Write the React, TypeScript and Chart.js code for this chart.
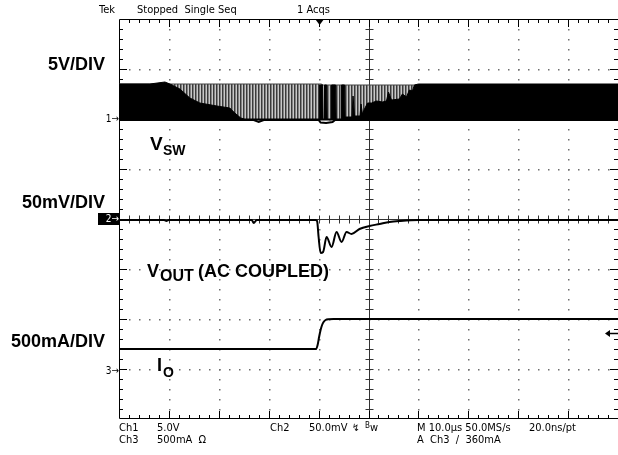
import React, { useEffect, useRef } from "react";
import { Chart, registerables } from "chart.js";

Chart.register(...registerables);

// ---- scope settings ----
const timePerDivUs = 10;
const ch1VoltsPerDiv = 5;
const ch2mVPerDiv = 50;
const ch3mAPerDiv = 500;
const ch1OffsetDiv = 2;
const ch2OffsetDiv = 0;
const ch3OffsetDiv = -3;
const triggerTimeUs = 40.2;
const triggerLevelmA = 360;

// ---- Ch1: V_SW (sparse pulses region envelope, volts) ----
const vswGreyTimeUs = [0, 40.5, 41, 100];
const vswGreyTopV = [3.5, 3.5, 3.4, 3.4];

// ---- Ch1: V_SW dense switching envelope (volts) ----
const vswDenseTimeUs = [0, 6.2, 9.2, 10.2, 12.2, 14.2, 16.2, 19.6, 22.2, 23.2, 24.4, 25.2, 40.1, 40.2, 40.8, 40.9, 41.1, 41.2, 41.6, 41.7, 42.5, 42.6, 43.4, 43.5, 44.5, 44.6, 45.2, 45.3, 46.7, 46.9, 47.2, 48.3, 48.5, 48.8, 49.2, 49.8, 50.6, 51.6, 52.8, 53.6, 54.0, 54.6, 56.2, 56.8, 57.6, 58.2, 58.8, 59.2, 60, 100];
const vswDenseTopV = [3.5, 3.5, 3.7, 3.5, 3.0, 2.1, 1.6, 1.3, 1.1, 0.6, 0.1, 0, 0, 3.4, 3.4, 0, 0, 3.4, 3.4, 0, 0, 3.4, 3.4, 0, 0, 3.4, 3.4, 0.2, 0.2, 2.3, 0.3, 0.3, 1.5, 0.5, 1.0, 1.6, 1.6, 1.8, 1.7, 1.8, 2.7, 1.9, 2.0, 2.5, 2.2, 2.9, 2.8, 3.4, 3.5, 3.5];
const vswDenseBottomV = -0.15;

// ---- Ch1: V_SW low level trace (volts) ----
const vswLowTimeUs = [0, 27, 28, 29, 40, 40.4, 41.5, 42.8, 43.3, 100];
const vswLowV = [-0.1, -0.1, -0.3, -0.1, -0.1, -0.35, -0.4, -0.3, -0.1, -0.1];

// ---- Ch2: V_OUT AC coupled (mV) ----
const voutTimeUs = [0, 5, 9, 9.5, 10, 20, 26.6, 27.0, 27.6, 35, 39.4, 39.7, 40.0, 40.4, 40.9, 41.6, 42.6, 43.6, 44.6, 45.6, 46.6, 48.2, 50.2, 52.2, 54.2, 56.2, 60, 70, 80, 90, 100];
const voutmV = [-1, -1, -1, -2, -1, -1, -1, -4, -1, -1, -1, -2, -18, -34, -33, -18, -28, -13, -23, -13, -15, -10, -7, -5, -3, -2, -1, -1, -1, -1, -1];

// ---- Ch3: I_O (mA) ----
const ioTimeUs = [0, 39.5, 39.8, 40.1, 40.4, 40.7, 41.0, 41.4, 42, 43, 100];
const iomA = [200, 200, 240, 320, 390, 440, 470, 490, 498, 500, 500];

// ---- texts ----
const headerTexts = ["Tek", "Stopped  Single Seq", "1 Acqs"];
const scaleLabels = ["5V/DIV", "50mV/DIV", "500mA/DIV"];
const footerRow1 = ["Ch1", "5.0V", "Ch2", "50.0mV", "M 10.0\u00b5s 50.0MS/s", "20.0ns/pt"];
const footerRow2 = ["Ch3", "500mA  \u03a9", "A  Ch3  \u2215  360mA"];

const toPts = (ts: number[], vs: number[], perDiv: number, off: number) =>
  ts.map((t, i) => ({ x: t, y: vs[i] / perDiv + off }));

const W = 618;
const H = 455;
const NARROW = '"Liberation Sans Narrow", "DejaVu Sans Condensed", "Liberation Sans", sans-serif';
const BOLD = '"Liberation Sans", Arial, sans-serif';

function T(props: {
  x: number; base: number; size: number; bold?: boolean; family?: string;
  right?: boolean; children: React.ReactNode; color?: string;
}) {
  const { x, base, size, bold, family, right, children, color } = props;
  const style: React.CSSProperties = {
    position: "absolute",
    top: base - 0.846 * size,
    fontSize: size,
    lineHeight: `${size}px`,
    fontFamily: family || (bold ? BOLD : NARROW),
    fontWeight: bold ? 700 : 400,
    whiteSpace: "pre",
    color: color || "#000",
  };
  if (right) style.right = W - x; else style.left = x;
  return <div style={style}>{children}</div>;
}

const gridPlugin = {
  id: "scopeGrid",
  beforeDatasetsDraw(chart: any) {
    const { ctx, chartArea, scales } = chart;
    const { left, right, top, bottom } = chartArea;
    const xs = scales.x, ys = scales.y;
    ctx.save();
    ctx.fillStyle = "#6e6e6e";
    for (let i = 1; i < 10; i++) {
      if (i === 5) continue;
      const px = Math.round(xs.getPixelForValue(i * timePerDivUs));
      for (let j = 1; j < 40; j++) {
        const py = Math.round(ys.getPixelForValue(-4 + j * 0.2));
        ctx.fillRect(px, py, 1.5, 1.5);
      }
    }
    for (let d = -3; d <= 3; d++) {
      if (d === 0) continue;
      const py = Math.round(ys.getPixelForValue(d));
      for (let k = 1; k < 50; k++) {
        const px = Math.round(xs.getPixelForValue(k * 2));
        ctx.fillRect(px, py, 1.5, 1.5);
      }
    }
    ctx.strokeStyle = "#333";
    ctx.lineWidth = 1;
    const cx = Math.round(xs.getPixelForValue(5 * timePerDivUs)) + 0.5;
    const cy = Math.round(ys.getPixelForValue(0)) + 0.5;
    ctx.beginPath();
    ctx.moveTo(cx, top); ctx.lineTo(cx, bottom);
    ctx.moveTo(left, cy); ctx.lineTo(right, cy);
    for (let j = 1; j < 40; j++) {
      const py = Math.round(ys.getPixelForValue(-4 + j * 0.2)) + 0.5;
      ctx.moveTo(cx - 4, py); ctx.lineTo(cx + 4, py);
    }
    for (let k = 1; k < 50; k++) {
      const px = Math.round(xs.getPixelForValue(k * 2)) + 0.5;
      ctx.moveTo(px, cy - 4); ctx.lineTo(px, cy + 4);
    }
    ctx.stroke();
    ctx.strokeStyle = "#000";
    ctx.beginPath();
    ctx.rect(left + 0.5, top + 0.5, right - left + 1, bottom - top - 1);
    for (let k = 1; k < 50; k++) {
      const px = Math.round(xs.getPixelForValue(k * 2)) + 0.5;
      const len = k % 5 === 0 ? 8 : 4;
      ctx.moveTo(px, top); ctx.lineTo(px, top + len);
      ctx.moveTo(px, bottom); ctx.lineTo(px, bottom - len);
    }
    for (let j = 1; j < 40; j++) {
      const py = Math.round(ys.getPixelForValue(-4 + j * 0.2)) + 0.5;
      const len = j % 5 === 0 ? 8 : 4;
      ctx.moveTo(left, py); ctx.lineTo(left + len, py);
      ctx.moveTo(right, py); ctx.lineTo(right - len, py);
    }
    ctx.stroke();
    ctx.restore();
  },
  afterDatasetsDraw(chart: any) {
    const { ctx, chartArea, scales } = chart;
    const xs = scales.x, ys = scales.y;
    ctx.save();
    ctx.fillStyle = "#000";
    ctx.strokeStyle = "#000";
    const tx = xs.getPixelForValue(triggerTimeUs);
    ctx.beginPath();
    ctx.moveTo(tx - 4.5, chartArea.top);
    ctx.lineTo(tx + 4.5, chartArea.top);
    ctx.lineTo(tx, chartArea.top + 6);
    ctx.closePath();
    ctx.fill();
    const ty = Math.round(ys.getPixelForValue(triggerLevelmA / ch3mAPerDiv + ch3OffsetDiv)) + 0.5;
    const ax = chartArea.right - 12;
    ctx.lineWidth = 1.5;
    ctx.beginPath();
    ctx.moveTo(ax + 2, ty); ctx.lineTo(chartArea.right, ty);
    ctx.stroke();
    ctx.beginPath();
    ctx.moveTo(ax - 1, ty); ctx.lineTo(ax + 4, ty - 3.5); ctx.lineTo(ax + 4, ty + 3.5);
    ctx.closePath();
    ctx.fill();
    ctx.restore();
  },
};

export default function App() {
  const ref = useRef<HTMLCanvasElement | null>(null);
  useEffect(() => {
    if (!ref.current) return;
    const pc = document.createElement("canvas");
    pc.width = 3; pc.height = 1;
    const pctx = pc.getContext("2d")!;
    pctx.fillStyle = "#c8c8c8"; pctx.fillRect(0, 0, 3, 1);
    pctx.fillStyle = "#3a3a3a"; pctx.fillRect(0, 0, 1.5, 1);
    const greyPattern = pctx.createPattern(pc, "repeat") || "#888";

    const base = { pointRadius: 0, tension: 0, spanGaps: true } as any;
    const chart = new Chart(ref.current, {
      type: "line",
      data: {
        datasets: [
          {
            ...base, label: "V_OUT", order: 1,
            data: toPts(voutTimeUs, voutmV, ch2mVPerDiv, ch2OffsetDiv),
            borderColor: "#000", borderWidth: 2, fill: false, cubicInterpolationMode: "monotone",
          },
          {
            ...base, label: "I_O", order: 2,
            data: toPts(ioTimeUs, iomA, ch3mAPerDiv, ch3OffsetDiv),
            borderColor: "#000", borderWidth: 2, fill: false, cubicInterpolationMode: "monotone",
          },
          {
            ...base, label: "V_SW low", order: 3,
            data: toPts(vswLowTimeUs, vswLowV, ch1VoltsPerDiv, ch1OffsetDiv),
            borderColor: "#000", borderWidth: 2, fill: false,
          },
          {
            ...base, label: "V_SW dense", order: 4,
            data: toPts(vswDenseTimeUs, vswDenseTopV, ch1VoltsPerDiv, ch1OffsetDiv),
            borderColor: "#000", borderWidth: 1, backgroundColor: "#000",
            fill: { value: ch1OffsetDiv + vswDenseBottomV / ch1VoltsPerDiv },
          },
          {
            ...base, label: "V_SW pulses", order: 5,
            data: toPts(vswGreyTimeUs, vswGreyTopV, ch1VoltsPerDiv, ch1OffsetDiv),
            borderColor: "#444", borderWidth: 1, backgroundColor: greyPattern,
            fill: { value: ch1OffsetDiv },
          },
        ],
      },
      options: {
        animation: false,
        responsive: false,
        devicePixelRatio: 1,
        layout: { padding: { left: 119, top: 19, right: 0, bottom: 36 } },
        scales: {
          x: { type: "linear", min: 0, max: 10 * timePerDivUs, display: false },
          y: { type: "linear", min: -4, max: 4, display: false },
        },
        plugins: { legend: { display: false }, tooltip: { enabled: false } },
        events: [],
      },
      plugins: [gridPlugin],
    } as any);
    return () => chart.destroy();
  }, []);

  const marker = (n: string, base: number, boxed?: boolean) => (
    <div style={{
      position: "absolute", left: boxed ? 98 : 102, top: base - 9, width: boxed ? 21 : 17, height: 12,
      background: boxed ? "#000" : "transparent", color: boxed ? "#fff" : "#000",
      fontFamily: NARROW, fontSize: 10, lineHeight: "12px", textAlign: "right", whiteSpace: "pre",
    }}>{n + "\u2192"}</div>
  );

  return (
    <div style={{ position: "fixed", left: 0, top: 0, width: W, height: H, background: "#fff", overflow: "hidden" }}>
      <canvas ref={ref} width={W} height={H} style={{ position: "absolute", left: 0, top: 0, width: W, height: H }} />
      <T x={99} base={13} size={11}>{headerTexts[0]}</T>
      <T x={137} base={13} size={11}>{headerTexts[1]}</T>
      <T x={297} base={13} size={11}>{headerTexts[2]}</T>

      <T x={105} base={70} size={18} bold right>{scaleLabels[0]}</T>
      <T x={105} base={208} size={18} bold right>{scaleLabels[1]}</T>
      <T x={105} base={347} size={18} bold right>{scaleLabels[2]}</T>

      <T x={150} base={150} size={19} bold>V</T>
      <T x={163} base={155} size={14} bold>SW</T>
      <T x={147} base={277} size={18} bold>V</T>
      <T x={160} base={282} size={16} bold>OUT</T>
      <T x={198} base={277} size={18} bold>(AC COUPLED)</T>
      <T x={157} base={371} size={18} bold>I</T>
      <T x={163} base={377} size={14} bold>O</T>

      {marker("1", 122)}
      {marker("2", 222, true)}
      {marker("3", 374)}

      <T x={119} base={431} size={11}>{footerRow1[0]}</T>
      <T x={157} base={431} size={11}>{footerRow1[1]}</T>
      <T x={270} base={431} size={11}>{footerRow1[2]}</T>
      <T x={309} base={431} size={11}>{footerRow1[3]}</T>
      <T x={352} base={431} size={10}>{"\u21af"}</T>
      <T x={365} base={431} size={11}><span style={{ fontSize: 8, position: "relative", top: -3 }}>B</span>w</T>
      <T x={417} base={431} size={11}>{footerRow1[4]}</T>
      <T x={529} base={431} size={11}>{footerRow1[5]}</T>
      <T x={119} base={443} size={11}>{footerRow2[0]}</T>
      <T x={157} base={443} size={11}>{footerRow2[1]}</T>
      <T x={417} base={443} size={11}>{footerRow2[2]}</T>
    </div>
  );
}
